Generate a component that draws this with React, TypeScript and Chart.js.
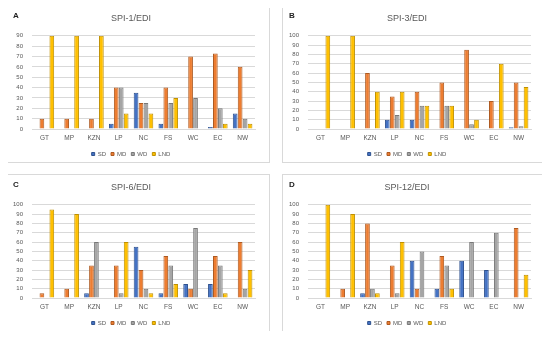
import React, { useEffect, useRef } from "react";
import { Chart, registerables } from "chart.js";

Chart.register(...registerables);

const categories = ["GT", "MP", "KZN", "LP", "NC", "FS", "WC", "EC", "NW"];
const seriesNames = ["SD", "MD", "WD", "LND"];
const seriesColors = ["#4472C4", "#ED7D31", "#A5A5A5", "#FFC000"];
const seriesEdges = ["#2F528F", "#AE5A21", "#787878", "#BF9000"];

// Panel A: SPI-1/EDI
const spi1SD = [0, 0, 0, 5, 35, 5, 0, 2, 15];
const spi1MD = [10, 10, 10, 40, 25, 40, 70, 73, 60];
const spi1WD = [0, 0, 0, 40, 25, 25, 30, 20, 10];
const spi1LND = [90, 90, 90, 15, 15, 30, 0, 5, 5];

// Panel B: SPI-3/EDI
const spi3SD = [0, 0, 0, 10, 10, 0, 0, 0, 2];
const spi3MD = [0, 0, 60, 35, 40, 50, 85, 30, 50];
const spi3WD = [0, 0, 0, 15, 25, 25, 5, 0, 3];
const spi3LND = [100, 100, 40, 40, 25, 25, 10, 70, 45];

// Panel C: SPI-6/EDI
const spi6SD = [0, 0, 5, 0, 55, 5, 15, 15, 0];
const spi6MD = [5, 10, 35, 35, 30, 45, 10, 45, 60];
const spi6WD = [0, 0, 60, 5, 10, 35, 75, 35, 10];
const spi6LND = [95, 90, 0, 60, 5, 15, 0, 5, 30];

// Panel D: SPI-12/EDI
const spi12SD = [0, 0, 5, 0, 40, 10, 40, 30, 0];
const spi12MD = [0, 10, 80, 35, 10, 45, 0, 0, 75];
const spi12WD = [0, 0, 10, 5, 50, 35, 60, 70, 0];
const spi12LND = [100, 90, 5, 60, 0, 10, 0, 0, 25];

const panelLetters = ["A", "B", "C", "D"];
const panelTitles = ["SPI-1/EDI", "SPI-3/EDI", "SPI-6/EDI", "SPI-12/EDI"];
const panelMax = [90, 100, 100, 100];
const panelData = [
  [spi1SD, spi1MD, spi1WD, spi1LND],
  [spi3SD, spi3MD, spi3WD, spi3LND],
  [spi6SD, spi6MD, spi6WD, spi6LND],
  [spi12SD, spi12MD, spi12WD, spi12LND],
];

const FONT = "'Liberation Sans', 'DejaVu Sans', sans-serif";
const TEXT = "#595959";
const W = 262;
const H = 156;

function Panel({ idx, left, top }: { idx: number; left: number; top: number }) {
  const ref = useRef<HTMLCanvasElement | null>(null);
  useEffect(() => {
    if (!ref.current) return;
    const chart = new Chart(ref.current, {
      type: "bar",
      data: {
        labels: categories,
        datasets: seriesNames.map((name, i) => ({
          label: name,
          data: panelData[idx][i],
          backgroundColor: seriesColors[i],
          borderColor: seriesEdges[i],
          borderWidth: 1,
          categoryPercentage: 0.8,
          barPercentage: 0.95,
        })),
      },
      options: {
        responsive: false,
        animation: false,
        layout: { padding: { left: 0, right: 14, top: 0, bottom: -5 } },
        plugins: {
          title: {
            display: true,
            text: panelTitles[idx],
            color: TEXT,
            font: { size: 9, family: FONT, weight: "normal" },
            padding: { top: 7, bottom: 12 },
          },
          legend: {
            position: "bottom",
            labels: {
              boxWidth: 3,
              boxHeight: 3,
              padding: 5,
              color: TEXT,
              font: { size: 6, family: FONT },
            },
          },
          tooltip: { enabled: false },
        },
        scales: {
          x: {
            grid: { display: false, drawTicks: false },
            border: { display: true, color: "#d9d9d9" },
            ticks: {
              color: TEXT,
              font: { size: 6.5, family: FONT },
              maxRotation: 0,
              autoSkip: false,
              padding: 5,
            },
            afterFit: (s: any) => {
              s.height = 17;
            },
          },
          y: {
            min: 0,
            max: panelMax[idx],
            ticks: {
              stepSize: 10,
              autoSkip: false,
              color: TEXT,
              font: { size: 6, family: FONT },
              padding: 9,
            },
            grid: { color: "#d9d9d9", drawTicks: false },
            border: { display: false },
            afterFit: (s: any) => {
              s.width = 25;
            },
          },
        },
      },
    });
    return () => chart.destroy();
  }, [idx]);
  return (
    <div
      style={{
        position: "absolute",
        left,
        top,
        width: 264,
        height: 158,
        boxSizing: "border-box",
        border: "1px solid #d9d9d9",
        background: "#fff",
      }}
    >
      <canvas ref={ref} width={W} height={H} style={{ display: "block" }} />
      <div
        style={{
          position: "absolute",
          left: 6,
          top: 5,
          fontFamily: FONT,
          fontWeight: "bold",
          fontSize: 8,
          color: "#222",
        }}
      >
        {panelLetters[idx]}
      </div>
    </div>
  );
}

export default function App() {
  return (
    <div style={{ position: "relative", width: 550, height: 339, margin: -8, background: "#fff" }}>
      <Panel idx={0} left={6} top={5} />
      <Panel idx={1} left={282} top={5} />
      <Panel idx={2} left={6} top={174} />
      <Panel idx={3} left={282} top={174} />
    </div>
  );
}
